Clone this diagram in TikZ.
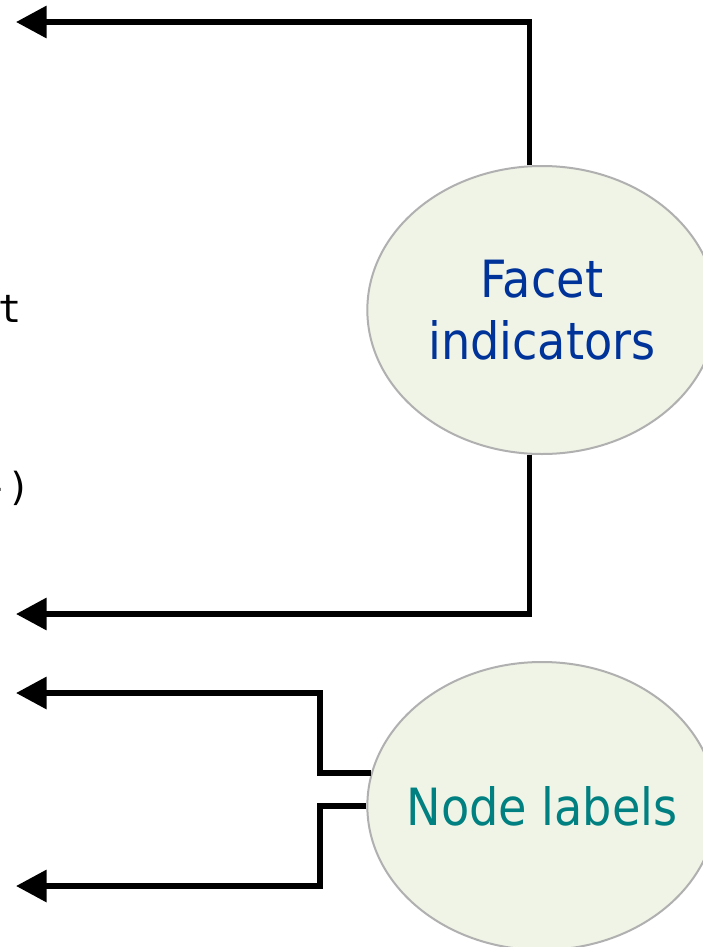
\documentclass[tikz,border=0pt]{standalone}
\usepackage{fontspec}
\usetikzlibrary{shapes.geometric,arrows.meta}
\newfontfamily\bubblefont{DejaVu Sans Condensed}
\newfontfamily\codefont{DejaVu Sans Mono}
\definecolor{bubblefill}{HTML}{F0F4E6}
\definecolor{bubbleedge}{HTML}{B0B0B0}
\definecolor{facetblue}{HTML}{003399}
\definecolor{labelteal}{HTML}{008080}
\tikzset{
  bubble/.style={ellipse, draw=bubbleedge, line width=1.5pt, fill=bubblefill,
    minimum width=262pt, minimum height=216pt, inner sep=0pt},
  bubbletext/.style={align=center, inner sep=0pt,
    font=\bubblefont\fontsize{38.5}{47}\selectfont},
  arr/.style={line width=4.2pt, line join=miter, -{Triangle[length=23pt,width=23.5pt]}},
  code/.style={font=\codefont\fontsize{29}{34}\selectfont, inner sep=0pt}
}
\begin{document}
\begin{tikzpicture}[x=0.75pt, y=-0.75pt]
  \useasboundingbox (0,0) rectangle (703,947);
  \clip (0,0) rectangle (703,947);
  \fill[white] (0,0) rectangle (703,947);

  % clipped code fragments at the left edge
  \node[code, anchor=base east] (c1) at (22,322) {t};
  \node[code, anchor=base east] (c2) at (31,500) {-)};

  % the two bubbles
  \node[bubble] (facet) at (542,310) {};
  \node[bubbletext, text=facetblue] (facettxt) at (facet.center) {Facet\\indicators};
  \node[bubble] (nodel) at (542,806) {};
  \node[bubbletext, text=labelteal] (nodeltxt) at (nodel.center) {Node labels};

  % arrow end points
  \coordinate (t1) at (16,22);
  \coordinate (t2) at (16,614);
  \coordinate (t3) at (16,693);
  \coordinate (t4) at (16,886);
  \coordinate (k1) at (320,693);
  \coordinate (k2) at (320,886);

  \draw[arr] (facet.95) |- (t1);
  \draw[arr] (facet.265) |- (t2);
  \draw[arr] (nodel.169.5) -| (k1) -- (t3);
  \draw[arr] (nodel.west) -| (k2) -- (t4);
\end{tikzpicture}
\end{document}
